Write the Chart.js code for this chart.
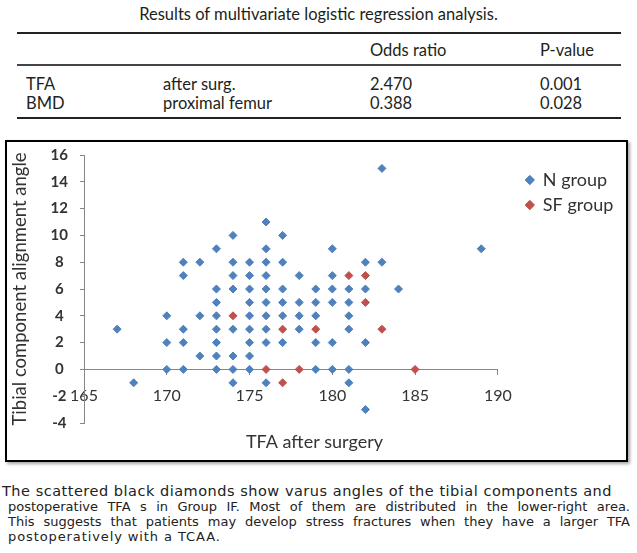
<!DOCTYPE html>
<html>
<head>
<meta charset="utf-8">
<title>TFA after surgery and tibial component alignment angle</title>
<script src="https://cdn.jsdelivr.net/npm/chart.js@4.4.0/dist/chart.umd.min.js"></script>
<style>
  html, body { margin: 0; padding: 0; background: #fff; }
  body {
    width: 637px; height: 553px; position: relative; overflow: hidden;
    font-family: Lato, "Liberation Sans", sans-serif; color: #231f20;
  }
  .t { position: absolute; white-space: nowrap; font-size: 16.5px; height: 18px; line-height: 18px; }
  .rule { position: absolute; left: 17px; width: 604px; background: #222; }
  .box {
    position: absolute; left: 5px; top: 140px; width: 623px; height: 322px;
    box-sizing: border-box; border: 2.5px solid #000;
    box-shadow: 2px 2px 3px rgba(0, 0, 0, 0.35);
  }
  #scatter { position: absolute; left: 8px; top: 143px; }
  .cap {
    position: absolute; white-space: nowrap; font-family: "DejaVu Sans", sans-serif;
    font-size: 13px; height: 15px; line-height: 15px; color: #222;
  }
  .cap.j { text-align: justify; text-align-last: justify; }
</style>
</head>
<body>

<div class="t" style="left:0; width:637px; top:5px; text-align:center;">Results of multivariate logistic regression analysis.</div>
<div class="rule" style="top:32px; height:2px;"></div>
<div class="t" style="left:370px; top:41px;">Odds ratio</div>
<div class="t" style="left:540px; top:41px;">P-value</div>
<div class="rule" style="top:64px; height:1.5px; background:#444;"></div>
<div class="t" style="left:26px; top:75px;">TFA</div>
<div class="t" style="left:163px; top:75px;">after surg.</div>
<div class="t" style="left:370px; top:75px;">2.470</div>
<div class="t" style="left:540px; top:75px;">0.001</div>
<div class="t" style="left:26px; top:94px;">BMD</div>
<div class="t" style="left:163px; top:94px;">proximal femur</div>
<div class="t" style="left:370px; top:94px;">0.388</div>
<div class="t" style="left:540px; top:94px;">0.028</div>
<div class="rule" style="top:117px; height:2px;"></div>

<div class="box"></div>
<canvas id="scatter" width="622" height="315"></canvas>

<div class="cap j" style="left:2px; top:484px; width:610px; font-size:14.5px; letter-spacing:0.5px;">The scattered black diamonds show varus angles of the tibial components and</div>
<div class="cap j" style="left:8px; top:499px; width:622px;">postoperative TFA s in Group IF. Most of them are distributed in the lower-right area.</div>
<div class="cap j" style="left:8px; top:514px; width:622px;">This suggests that patients may develop stress fractures when they have a larger TFA</div>
<div class="cap" style="left:8px; top:529px; letter-spacing:0.9px;">postoperatively with a TCAA.</div>

<script>
// Axis ticks
const tfaTicks = [165, 170, 175, 180, 185, 190];
const angleTicks = [-4, -2, 0, 2, 4, 6, 8, 10, 12, 14, 16];

const groupNames = ["N group", "SF group"];

// N group: postoperative TFA and tibial component alignment angle
const nGroupTfa = [
  167,
  168,
  170, 170, 170,
  171, 171, 171, 171, 171,
  172, 172, 172,
  173, 173, 173, 173, 173, 173, 173, 173,
  174, 174, 174, 174, 174, 174, 174, 174,
  175, 175, 175, 175, 175, 175, 175, 175, 175,
  176, 176, 176, 176, 176, 176, 176, 176, 176, 176,
  177, 177, 177, 177, 177, 177,
  178, 178, 178, 178,
  179, 179, 179, 179, 179,
  180, 180, 180, 180, 180, 180,
  181, 181, 181, 181, 181, 181,
  182, 182, 182, 182,
  183, 183,
  184,
  189,
];
const nGroupAngle = [
  3,
  -1,
  4, 2, 0,
  8, 7, 3, 2, 0,
  8, 4, 1,
  9, 6, 5, 4, 3, 2, 1, 0,
  10, 8, 7, 6, 3, 1, 0, -1,
  8, 7, 6, 5, 4, 3, 2, 1, 0,
  11, 9, 8, 7, 6, 5, 4, 3, 2, -1,
  10, 8, 6, 5, 4, 2,
  7, 5, 4, 3,
  6, 5, 4, 2, 0,
  9, 7, 6, 5, 2, 0,
  6, 5, 4, 3, 0, -1,
  8, 6, 2, -3,
  15, 8,
  6,
  9,
];

// SF group (stress fractures)
const sfGroupTfa = [174, 176, 177, 177, 178, 179, 181, 182, 182, 183, 185];
const sfGroupAngle = [4, 0, 3, -1, 0, 3, 7, 7, 5, 3, 0];

const FONT = 'Lato, "Liberation Sans", sans-serif';
const TEXT = "#333333";
const AXIS_GRAY = "#868686";

Chart.defaults.font.family = FONT;
Chart.defaults.color = TEXT;

function toPoints(xs, ys) {
  return xs.map((x, i) => ({ x: x, y: ys[i] }));
}

function diamondSeries(label, xs, ys, color) {
  return {
    label: label,
    data: toPoints(xs, ys),
    xAxisID: "x",
    yAxisID: "y",
    pointStyle: "rectRot",
    pointRadius: 4,
    pointHoverRadius: 4,
    pointBorderWidth: 1,
    backgroundColor: color,
    borderColor: color,
  };
}

const ctx = document.getElementById("scatter").getContext("2d");

new Chart(ctx, {
  type: "scatter",
  data: {
    datasets: [
      diamondSeries(groupNames[0], nGroupTfa, nGroupAngle, "#4f81bd"),
      diamondSeries(groupNames[1], sfGroupTfa, sfGroupAngle, "#c0504d"),
    ],
  },
  options: {
    responsive: false,
    animation: false,
    layout: { padding: { top: 12, right: 9, bottom: 0, left: 0 } },
    plugins: {
      tooltip: { enabled: false },
      legend: {
        position: "right",
        align: "start",
        fullSize: false,
        title: { display: true, text: "", font: { size: 7.5 }, padding: 0 },
        labels: {
          usePointStyle: true,
          boxWidth: 8,
          boxHeight: 6.6,
          padding: 7,
          color: TEXT,
          font: { size: 18 },
        },
      },
    },
    scales: {
      // horizontal axis crosses at angle 0
      x: {
        type: "linear",
        position: { y: 0 },
        min: 165,
        max: 190,
        afterBuildTicks: (scale) => {
          scale.ticks = tfaTicks.map((v) => ({ value: v }));
        },
        grid: { display: true, drawOnChartArea: false, tickLength: 5, color: AXIS_GRAY },
        border: { display: true, color: AXIS_GRAY, width: 1 },
        ticks: { autoSkip: false, maxRotation: 0, padding: 12, color: TEXT, font: { size: 16 } },
      },
      // carries only the x title, below the plot
      xTitle: {
        type: "linear",
        axis: "x",
        position: "bottom",
        fullSize: true,
        min: 0,
        max: 1,
        grid: { display: false },
        border: { display: false },
        ticks: { display: false },
        title: {
          display: true,
          text: "TFA after surgery",
          color: TEXT,
          font: { size: 18 },
          padding: { top: 0, bottom: 5 },
        },
        afterFit: (scale) => {
          scale.height = 35;
        },
      },
      y: {
        type: "linear",
        position: "left",
        min: -4,
        max: 16,
        afterBuildTicks: (scale) => {
          scale.ticks = angleTicks.map((v) => ({ value: v }));
        },
        afterFit: (scale) => {
          scale.width = 76;
          // labels fit inside the layout padding already
          scale.paddingTop = 0;
          scale.paddingBottom = 0;
        },
        grid: { display: true, drawOnChartArea: false, tickLength: 4, color: AXIS_GRAY },
        border: { display: true, color: AXIS_GRAY, width: 1 },
        ticks: {
          autoSkip: false,
          crossAlign: "center",
          padding: 12,
          color: TEXT,
          font: { size: 15, weight: "bold" },
        },
        title: {
          display: true,
          text: "Tibial component alignment angle",
          color: TEXT,
          font: { size: 18.5 },
          padding: { top: 1, bottom: 0 },
        },
      },
      // gap between plot and legend
      legendGap: {
        type: "linear",
        axis: "y",
        position: "right",
        min: 0,
        max: 1,
        grid: { display: false },
        border: { display: false },
        ticks: { display: false },
        afterFit: (scale) => {
          scale.width = 21;
        },
      },
    },
  },
});
</script>
</body>
</html>
